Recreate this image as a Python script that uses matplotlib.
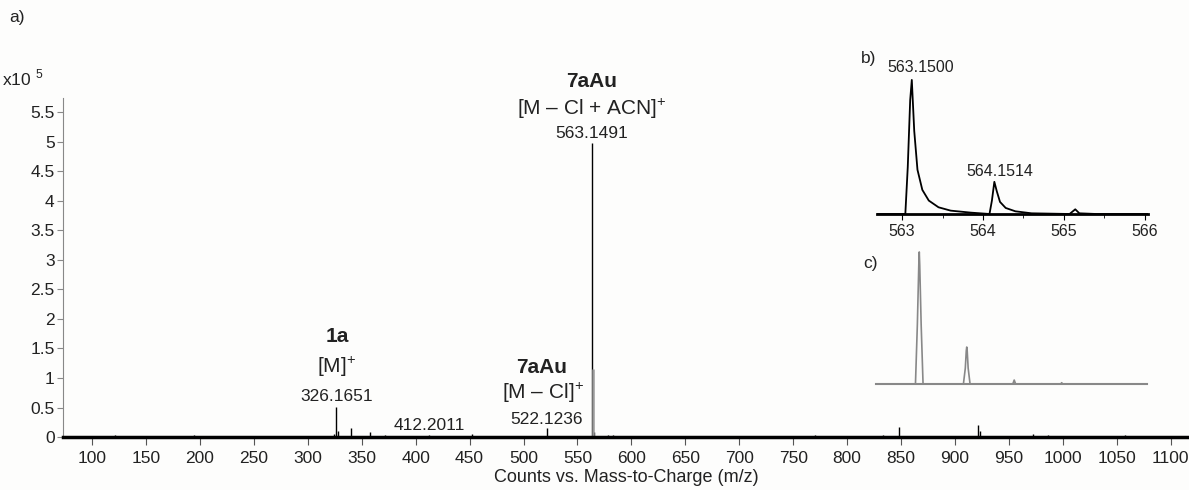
import numpy as np
import matplotlib.pyplot as plt

plt.rcParams['font.family'] = ['Liberation Sans', 'DejaVu Sans']
plt.rcParams['mathtext.fontset'] = 'custom'
plt.rcParams['mathtext.rm'] = 'Liberation Sans'
plt.rcParams['mathtext.bf'] = 'Liberation Sans:bold'
txt = '#222222'

# main spectrum, stick peaks (m/z, counts x10^5)
mz = [100, 121, 194, 324.5, 326.17, 327.6, 340.0, 358.0, 372.0, 412.2, 452.0,
      522.12, 563.15, 565.15, 578.0, 583.0, 770.0, 833.0, 848.5, 921.0, 923.0,
      972.0, 986.0, 1058.0]
counts = [0.02, 0.03, 0.03, 0.06, 0.51, 0.10, 0.15, 0.09, 0.03, 0.03, 0.06,
          0.15, 4.97, 0.08, 0.03, 0.03, 0.03, 0.04, 0.17, 0.20, 0.10,
          0.05, 0.03, 0.03]
iso_mz = 564.15
iso_counts = 1.16

# inset b, measured profile
b_x = [562.69, 563.04, 563.07, 563.10, 563.12, 563.15, 563.19, 563.25, 563.33,
       563.45, 563.60, 563.85, 564.08, 564.11, 564.14, 564.17, 564.21, 564.28,
       564.40, 564.60, 565.07, 565.11, 565.14, 565.19, 565.40, 566.04]
b_y = [0, 0, 0.35, 0.85, 1.0, 0.62, 0.33, 0.18, 0.10, 0.05, 0.025, 0.01, 0,
       0.10, 0.24, 0.17, 0.09, 0.045, 0.02, 0.005, 0, 0.02, 0.035, 0.005, 0, 0]
b_ticks = [563, 564, 565, 566]

# inset c, simulated isotope pattern
c_x = [562.24, 563.07, 563.11, 563.14, 563.15, 563.16, 563.19, 563.23,
       564.08, 564.12, 564.14, 564.15, 564.16, 564.18, 564.22,
       565.12, 565.15, 565.18, 566.13, 566.15, 566.17, 567.95]
c_y = [0, 0, 0.45, 0.9, 1.0, 0.9, 0.45, 0,
       0, 0.12, 0.25, 0.28, 0.25, 0.12, 0,
       0, 0.03, 0, 0, 0.01, 0, 0]

labels = [
    (563.4, 6.02, '7aAu', 'bold', 15),
    (563.4, 5.56, '[M – Cl + ACN]$^{+}$', 'normal', 15),
    (563.4, 5.14, '563.1491', 'normal', 12.5),
    (327.0, 1.71, '1a', 'bold', 15),
    (327.0, 1.19, '[M]$^{+}$', 'normal', 15),
    (327.0, 0.68, '326.1651', 'normal', 12.5),
    (412.3, 0.20, '412.2011', 'normal', 12.5),
    (517.0, 1.17, '7aAu', 'bold', 15),
    (518.0, 0.75, '[M – Cl]$^{+}$', 'normal', 15),
    (521.7, 0.29, '522.1236', 'normal', 12.5),
]

fig = plt.figure(figsize=(11.89, 4.90), dpi=100)
fig.patch.set_facecolor('#fdfdfc')

ax = fig.add_axes([0.053, 0.108, 0.947, 0.692])
ax.set_facecolor('#fdfdfc')
ax.vlines(mz, 0, counts, color='black', lw=1)
ax.vlines(iso_mz, 0, iso_counts, color='#999999', lw=1.8)
ax.set_xlim(73, 1117)
ax.set_ylim(0, 5.74)
ax.set_xticks(np.arange(100, 1101, 50))
ax.set_yticks(np.arange(0, 5.6, 0.5))
ax.set_yticklabels(['%g' % v for v in np.arange(0, 5.6, 0.5)])
for s in ['top', 'right']:
    ax.spines[s].set_visible(False)
ax.spines['left'].set_color('#888888')
ax.spines['bottom'].set_color('black')
ax.spines['bottom'].set_linewidth(2.5)
ax.tick_params(axis='x', length=6, color='#555555', labelsize=12.5, labelcolor=txt, pad=4)
ax.tick_params(axis='y', length=4, color='#888888', labelsize=12.5, labelcolor=txt, pad=2)
ax.set_xlabel('Counts vs. Mass-to-Charge (m/z)', fontsize=13, color=txt, labelpad=2)
for x, y, s, w, fs in labels:
    ax.text(x, y, s, ha='center', va='center', fontsize=fs, fontweight=w,
            color=txt, clip_on=False)

fig.text(0.008, 0.965, 'a)', fontsize=12.5, color=txt, va='center')
fig.text(0.002, 0.84, 'x10 $^{5}$', fontsize=12.5, color=txt, va='center')

# inset b
axb = fig.add_axes([0.7376, 0.5633, 0.228, 0.2837])
axb.patch.set_alpha(0)
axb.plot(b_x, b_y, color='black', lw=1.3)
axb.set_xlim(562.69, 566.04)
axb.set_ylim(0, 1.037)
axb.set_xticks(b_ticks)
axb.set_xticks([563.5, 564.5, 565.5], minor=True)
axb.set_yticks([])
for s in ['top', 'right', 'left']:
    axb.spines[s].set_visible(False)
axb.spines['bottom'].set_linewidth(2)
axb.tick_params(axis='x', which='major', length=4, labelsize=11.5, labelcolor=txt, pad=3)
axb.tick_params(axis='x', which='minor', length=3)
axb.text(563.23, 1.09, '563.1500', ha='center', va='center', fontsize=11.5,
         color=txt, clip_on=False)
axb.text(564.21, 0.32, '564.1514', ha='center', va='center', fontsize=11.5, color=txt)
fig.text(0.724, 0.88, 'b)', fontsize=12.5, color=txt, va='center')

# inset c
axc = fig.add_axes([0.7368, 0.2163, 0.228, 0.2776])
axc.patch.set_alpha(0)
axc.plot(c_x, c_y, color='#888888', lw=1.2)
axc.set_xlim(562.24, 567.95)
axc.set_ylim(0, 1.03)
axc.set_xticks([])
axc.set_yticks([])
for s in ['top', 'right', 'left']:
    axc.spines[s].set_visible(False)
axc.spines['bottom'].set_color('#888888')
axc.spines['bottom'].set_linewidth(1.5)
fig.text(0.726, 0.463, 'c)', fontsize=12.5, color=txt, va='center')

fig.savefig('out.png', dpi=100, facecolor=fig.get_facecolor())
